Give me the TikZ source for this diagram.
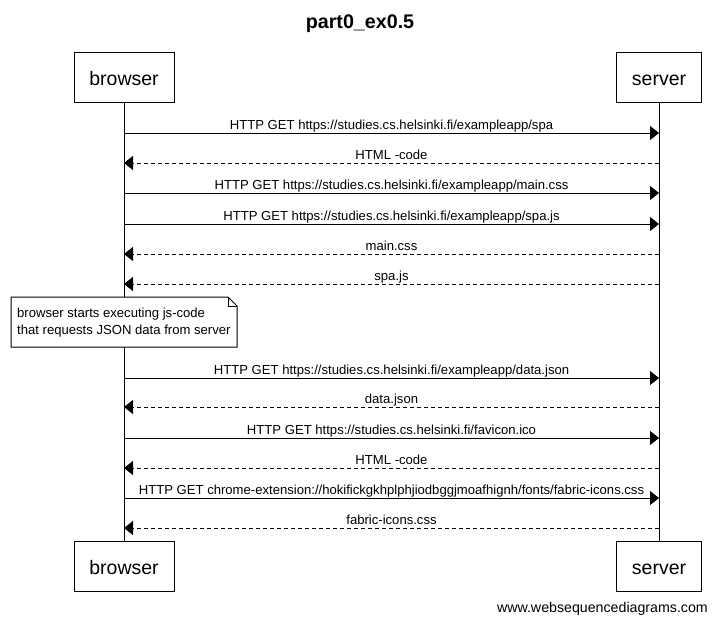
\documentclass[tikz,border=0pt]{standalone}
\usepackage{fontspec}
\setmainfont{Liberation Sans}
\usetikzlibrary{arrows.meta}
\tikzset{
  actor/.style={draw=black, line width=1pt, fill=white, minimum width=#1, minimum height=50pt, inner sep=0pt, text height=19pt, text depth=4pt, font=\fontsize{19.5}{22}\selectfont},
  lifeline/.style={draw=black, line width=1pt},
  msg/.style={draw=black, line width=1pt, -{Triangle[length=9pt,width=14pt]}},
  reply/.style={msg, dash pattern=on 4pt off 3pt},
  lbl/.style={font=\fontsize{13.1}{14}\selectfont, anchor=base, inner sep=0pt, yshift=4pt},
  notebox/.style={draw=black, line width=1pt, fill=white},
  notetext/.style={font=\fontsize{13.1}{17}\selectfont, align=left, anchor=north west, inner sep=0pt}
}
\begin{document}
\begin{tikzpicture}[x=1pt,y=-1pt]
\useasboundingbox (0,0) rectangle (717,625);
\fill[white] (0,0) rectangle (717,625);
\node[font=\bfseries\fontsize{19.7}{22}\selectfont] (title) at (360,24) {part0\_ex0.5};
\node[actor=100pt] (bt) at (124,77.5) {browser};
\node[actor=85pt] (st) at (659,77.5) {server};
\node[actor=100pt] (bb) at (124,566.5) {browser};
\node[actor=85pt] (sb) at (659,566.5) {server};
\draw[lifeline] (bt.south) -- (bb.north);
\draw[lifeline] (st.south) -- (sb.north);
% message end points
\foreach \i/\y in {1/133,2/163,3/193,4/224,5/254,6/284,7/378,8/407,9/438,10/468,11/498,12/528}{
  \coordinate (b\i) at (124,\y);
  \coordinate (s\i) at (659,\y);
}
\draw[msg] (b1) -- node[lbl]{HTTP GET https://studies.cs.helsinki.fi/exampleapp/spa} (s1);
\draw[reply] (s2) -- node[lbl]{HTML -code} (b2);
\draw[msg] (b3) -- node[lbl]{HTTP GET https://studies.cs.helsinki.fi/exampleapp/main.css} (s3);
\draw[msg] (b4) -- node[lbl]{HTTP GET https://studies.cs.helsinki.fi/exampleapp/spa.js} (s4);
\draw[reply] (s5) -- node[lbl]{main.css} (b5);
\draw[reply] (s6) -- node[lbl]{spa.js} (b6);
% note
\draw[notebox] (11,297) -- (228,297) -- (237,306) -- (237,347) -- (11,347) -- cycle;
\draw[line width=1pt] (228,297) -- (228,306) -- (237,306);
\node[notetext] (note) at (17,308) {browser starts executing js-code\\that requests JSON data from server};
\draw[msg] (b7) -- node[lbl]{HTTP GET https://studies.cs.helsinki.fi/exampleapp/data.json} (s7);
\draw[reply] (s8) -- node[lbl]{data.json} (b8);
\draw[msg] (b9) -- node[lbl]{HTTP GET https://studies.cs.helsinki.fi/favicon.ico} (s9);
\draw[reply] (s10) -- node[lbl]{HTML -code} (b10);
\draw[msg] (b11) -- node[lbl]{HTTP GET chrome-extension://hokifickgkhplphjiodbggjmoafhignh/fonts/fabric-icons.css} (s11);
\draw[reply] (s12) -- node[lbl]{fabric-icons.css} (b12);
\node[font=\fontsize{14.2}{16}\selectfont, anchor=east, inner sep=0pt] (footer) at (708,609) {www.websequencediagrams.com};
\end{tikzpicture}
\end{document}
